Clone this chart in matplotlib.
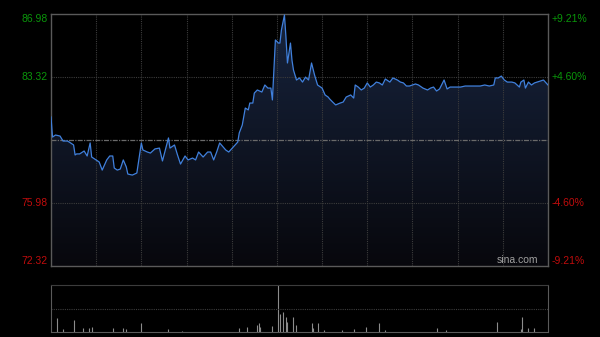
import numpy as np
import matplotlib
matplotlib.use("Agg")
import matplotlib.pyplot as plt
from matplotlib.colors import LinearSegmentedColormap

# HK session: 9:30-12:00, 13:00-16:00 -> minute index 0..330
minutes = [0, 1, 3, 6, 8, 11, 13, 15, 16, 17, 19, 22, 24, 26, 27, 30, 32, 34, 37, 39,
           41, 42, 44, 46, 48, 50, 51, 54, 57, 60, 61, 64, 66, 69, 72, 74, 78, 79, 82, 84,
           86, 89, 91, 94, 96, 98, 101, 104, 106, 108, 110, 112, 116, 118, 121, 124, 125, 127, 129, 131,
           132, 134, 135, 137, 140, 142, 144, 146, 147, 149, 151, 152, 153, 155, 156, 157, 159, 160, 161, 163,
           165, 167, 169, 171, 173, 175, 177, 180, 182, 184, 185, 187, 189, 192, 194, 196, 199, 201, 202, 204,
           206, 208, 210, 212, 214, 216, 218, 220, 222, 225, 227, 230, 232, 234, 236, 238, 242, 244, 247, 250,
           252, 254, 256, 258, 260, 261, 263, 265, 268, 272, 275, 278, 282, 285, 288, 291, 294, 295, 297, 299,
           301, 303, 306, 308, 311, 312, 314, 315, 317, 319, 321, 325, 327, 330]
prices = [80.99, 79.82, 79.94, 79.88, 79.59, 79.59, 79.48, 79.36, 78.78, 78.84, 78.84, 79.01, 78.72, 79.48, 78.66, 78.49, 78.37, 77.90, 78.49, 78.72,
          78.72, 78.02, 77.90, 77.96, 78.49, 78.08, 77.67, 77.61, 77.73, 79.48, 79.07, 78.95, 78.89, 79.13, 79.18, 78.43, 79.77, 79.18, 79.36, 78.78,
          78.25, 78.72, 78.49, 78.60, 78.49, 78.95, 78.66, 78.95, 78.95, 78.49, 78.95, 79.48, 79.07, 78.95, 79.24, 79.53, 80.06, 80.52, 81.51, 81.40,
          81.80, 81.80, 82.38, 82.56, 82.44, 82.85, 82.67, 82.67, 81.98, 85.47, 85.29, 85.29, 86.05, 86.92, 85.64, 84.13, 85.29, 84.30, 83.72, 83.14,
          83.26, 83.02, 83.31, 83.14, 84.13, 83.43, 82.85, 82.67, 82.27, 82.15, 82.04, 81.86, 81.69, 81.80, 81.86, 82.15, 82.27, 82.09, 82.85, 82.73,
          82.56, 82.67, 82.97, 82.73, 82.85, 83.02, 82.97, 82.85, 83.20, 83.02, 83.26, 83.14, 83.02, 82.97, 82.79, 82.79, 82.91, 82.85, 82.67, 82.56,
          82.67, 82.73, 82.50, 82.62, 82.97, 83.14, 82.62, 82.73, 82.73, 82.73, 82.79, 82.79, 82.79, 82.79, 82.85, 82.79, 82.85, 83.26, 83.26, 83.37,
          83.14, 83.02, 83.02, 82.97, 82.73, 83.02, 83.14, 82.67, 83.02, 82.85, 82.97, 83.08, 83.14, 82.85]

vol_minutes = [4, 8, 15, 21, 25, 27, 41, 48, 50, 60, 78, 87, 125, 130, 137, 138, 139, 147, 151, 152,
               154, 156, 157, 161, 163, 173, 174, 177, 181, 193, 201, 209, 218, 222, 256, 262, 296, 312, 313, 317, 321]
volumes = [14, 3, 12, 4, 4, 5, 4, 4, 3, 9, 3, 1, 4, 5, 7, 9, 5, 6, 47, 18,
           20, 15, 10, 15, 7, 9, 4, 9, 2, 2, 3, 5, 9, 2, 4, 2, 10, 3, 15, 4, 4]

prev_close = 79.65
price_ticks = [72.32, 75.98, 79.65, 83.32, 86.98]
left_labels = ["72.32", "75.98", "", "83.32", "86.98"]
right_labels = ["-9.21%", "-4.60%", "", "+4.60%", "+9.21%"]

BG = "#000000"
FRAME = "#5a5a5a"
GRID = "#3c3c3c"
LINE = "#4080dc"
GREEN = "#0a960a"
RED = "#c00c0c"
FONT = ["Liberation Sans", "DejaVu Sans"]

fig = plt.figure(figsize=(6, 3.37), dpi=100, facecolor=BG)
ax = fig.add_axes([51 / 600, 1 - 266 / 337, 497 / 600, 252 / 337], facecolor=BG)
axv = fig.add_axes([51 / 600, 1 - 332 / 337, 497 / 600, 47 / 337], facecolor=BG)

ymin, ymax = price_ticks[0], price_ticks[-1]
ax.set_xlim(0, 330)
ax.set_ylim(ymin, ymax)

# gradient fill under the price line
cmap = LinearSegmentedColormap.from_list("fill", [(0.03, 0.03, 0.05), (0.09, 0.14, 0.24)])
grad = np.linspace(0, 1, 256).reshape(-1, 1)
img = ax.imshow(grad, extent=[0, 330, ymin, ymax], origin="lower", aspect="auto",
                cmap=cmap, zorder=1)
poly = ax.fill_between(minutes, prices, ymin, color="none", lw=0)
img.set_clip_path(poly.get_paths()[0], transform=ax.transData)

# grid
for i in range(1, 11):
    ax.axvline(i * 30, color=GRID, lw=0.8, ls=(0, (1, 1)), zorder=2)
for p in [75.98, 83.32]:
    ax.axhline(p, color=GRID, lw=0.8, ls=(0, (1, 1)), zorder=2)
ax.axhline(prev_close, color="#6a6a6a", lw=0.9, ls=(0, (4, 1, 1, 1)), zorder=2)

ax.plot(minutes, prices, color=LINE, lw=0.9, zorder=3)

for s in ax.spines.values():
    s.set_color(FRAME)
    s.set_linewidth(1.0)
ax.set_xticks([])
ax.set_yticks([])

# price labels left and right
for p, lt, rt in zip(price_ticks, left_labels, right_labels):
    if not lt:
        continue
    col = GREEN if p > prev_close else RED
    va = "center"
    if p == ymax:
        va = "top"
    elif p == ymin:
        va = "bottom"
    ax.text(-0.006, p, lt, transform=ax.get_yaxis_transform(), ha="right", va=va,
            color=col, fontsize=7.5, family=FONT)
    ax.text(1.008, p, rt, transform=ax.get_yaxis_transform(), ha="left", va=va,
            color=col, fontsize=7.5, family=FONT)

ax.text(0.98, 0.005, "sina.com", transform=ax.transAxes, ha="right", va="bottom",
        color="#a0a0a0", fontsize=7.5, family=FONT, zorder=4)

# volume panel
axv.set_xlim(0, 330)
axv.set_ylim(0, max(volumes))
axv.vlines(vol_minutes, 0, volumes, color="#8c8c8c", lw=0.8)
axv.axhline(max(volumes) / 2, color=GRID, lw=0.8, ls=(0, (1, 1)))
axv.set_xticks([])
axv.set_yticks([])
for k in ["left", "right", "bottom"]:
    axv.spines[k].set_color(FRAME)
axv.spines["top"].set_color(GRID)
axv.spines["top"].set_linestyle((0, (1, 1)))

fig.savefig("out.png", dpi=100, facecolor=BG)
